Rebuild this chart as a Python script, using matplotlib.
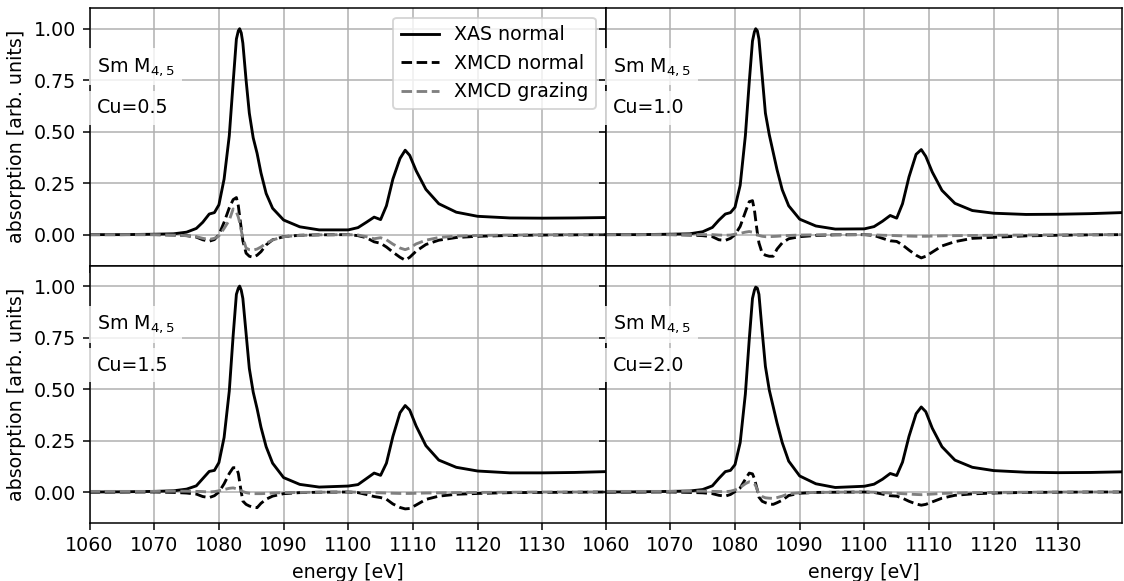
import numpy as np
import matplotlib
matplotlib.use('Agg')
import matplotlib.pyplot as plt

# energy grid (eV)
energy = [1060, 1065, 1070, 1073, 1075, 1076.5, 1077.5, 1078.5, 1079.3, 1080,
          1080.8, 1081.6, 1082.2, 1082.7, 1083.0, 1083.2, 1083.45, 1083.7, 1084.2, 1084.7,
          1085.3, 1085.9, 1086.5, 1087.3, 1088.3, 1090, 1092.5, 1095.5, 1100, 1101.5,
          1102.8, 1104, 1105, 1105.9, 1106.9, 1108, 1108.8, 1109.5, 1110.5, 1112,
          1114, 1116.7, 1120, 1125, 1130, 1135, 1139.8]

# Cu = 0.5
xas_05 = [0.0, 0.0, 0.002, 0.004, 0.012, 0.03, 0.06, 0.10, 0.107, 0.145,
          0.27, 0.48, 0.74, 0.95, 0.99, 1.00, 0.98, 0.93, 0.75, 0.59,
          0.47, 0.395, 0.30, 0.20, 0.128, 0.071, 0.038, 0.023, 0.023, 0.034,
          0.06, 0.085, 0.073, 0.14, 0.27, 0.37, 0.41, 0.385, 0.31, 0.22,
          0.15, 0.109, 0.089, 0.081, 0.080, 0.081, 0.083]
mcd_05 = [0, 0, 0, -0.002, -0.005, -0.012, -0.025, -0.032, -0.024, 0.0,
          0.06, 0.13, 0.17, 0.18, 0.14, 0.09, 0.03, -0.03, -0.09, -0.105,
          -0.11, -0.10, -0.083, -0.05, -0.025, -0.01, -0.003, -0.001, 0, -0.005,
          -0.015, -0.035, -0.042, -0.06, -0.085, -0.11, -0.124, -0.11, -0.08, -0.048,
          -0.027, -0.014, -0.008, -0.004, -0.002, -0.001, 0]
gr_05 = [0, 0, 0, -0.002, -0.005, -0.01, -0.018, -0.023, -0.018, -0.006,
         0.03, 0.07, 0.125, 0.11, 0.085, 0.06, 0.02, -0.015, -0.065, -0.073,
         -0.075, -0.07, -0.06, -0.042, -0.026, -0.01, -0.004, -0.001, 0, -0.002,
         -0.01, -0.02, -0.015, -0.025, -0.046, -0.065, -0.073, -0.065, -0.045, -0.027,
         -0.014, -0.007, -0.004, -0.002, -0.001, 0, 0]

# Cu = 1.0
xas_10 = [0.0, 0.0, 0.002, 0.004, 0.014, 0.035, 0.07, 0.10, 0.107, 0.133,
          0.24, 0.48, 0.74, 0.94, 0.985, 1.00, 0.99, 0.95, 0.77, 0.59,
          0.485, 0.40, 0.315, 0.218, 0.14, 0.075, 0.042, 0.027, 0.028, 0.039,
          0.065, 0.093, 0.08, 0.15, 0.28, 0.39, 0.413, 0.38, 0.304, 0.215,
          0.152, 0.117, 0.104, 0.098, 0.099, 0.102, 0.107]
mcd_10 = [0, 0, 0, -0.002, -0.005, -0.01, -0.025, -0.028, -0.018, 0.0,
          0.04, 0.11, 0.16, 0.165, 0.12, 0.07, 0.01, -0.04, -0.09, -0.10,
          -0.105, -0.105, -0.07, -0.04, -0.02, -0.01, -0.004, -0.001, 0, -0.004,
          -0.018, -0.03, -0.033, -0.05, -0.075, -0.10, -0.113, -0.105, -0.085, -0.055,
          -0.034, -0.018, -0.013, -0.006, -0.003, -0.001, 0]
gr_10 = [0, 0, 0, 0, 0, 0, -0.002, -0.003, -0.002, 0.002,
         0.006, 0.012, 0.015, 0.012, 0.008, 0.004, 0.0, -0.004, -0.008, -0.01,
         -0.01, -0.009, -0.008, -0.006, -0.004, -0.002, -0.001, 0, 0, -0.001,
         -0.003, -0.004, -0.005, -0.006, -0.007, -0.008, -0.008, -0.008, -0.007, -0.006,
         -0.005, -0.004, -0.003, -0.002, -0.001, 0, 0]

# Cu = 1.5
xas_15 = [0.0, 0.001, 0.003, 0.006, 0.014, 0.03, 0.065, 0.10, 0.105, 0.143,
          0.265, 0.49, 0.76, 0.96, 0.99, 1.00, 0.98, 0.94, 0.77, 0.60,
          0.485, 0.405, 0.315, 0.22, 0.14, 0.07, 0.037, 0.024, 0.029, 0.036,
          0.065, 0.092, 0.081, 0.14, 0.27, 0.385, 0.42, 0.398, 0.32, 0.225,
          0.155, 0.12, 0.102, 0.093, 0.093, 0.095, 0.099]
mcd_15 = [0, 0, 0, -0.002, -0.005, -0.01, -0.022, -0.027, -0.018, 0.0,
          0.04, 0.09, 0.118, 0.118, 0.09, 0.05, 0.0, -0.044, -0.06, -0.068,
          -0.074, -0.076, -0.055, -0.035, -0.02, -0.008, -0.003, -0.001, 0, -0.003,
          -0.012, -0.022, -0.027, -0.035, -0.058, -0.075, -0.082, -0.08, -0.063, -0.036,
          -0.02, -0.011, -0.007, -0.003, -0.002, -0.001, 0]
gr_15 = [0.003, 0.003, 0.003, 0.004, 0.004, 0.003, 0.002, 0.0, 0.002, 0.006,
         0.012, 0.018, 0.02, 0.016, 0.013, 0.01, 0.006, 0.002, -0.003, -0.006,
         -0.008, -0.008, -0.008, -0.007, -0.005, -0.003, -0.002, -0.001, 0, -0.001,
         -0.002, -0.003, -0.004, -0.005, -0.006, -0.007, -0.007, -0.007, -0.006, -0.005,
         -0.004, -0.003, -0.002, -0.001, 0, 0, 0]

# Cu = 2.0
xas_20 = [0.0, 0.001, 0.003, 0.005, 0.012, 0.03, 0.066, 0.099, 0.105, 0.133,
          0.24, 0.476, 0.74, 0.94, 0.98, 0.995, 0.99, 0.96, 0.78, 0.61,
          0.495, 0.415, 0.335, 0.24, 0.15, 0.078, 0.04, 0.022, 0.028, 0.038,
          0.062, 0.09, 0.08, 0.145, 0.27, 0.38, 0.413, 0.39, 0.31, 0.22,
          0.155, 0.12, 0.104, 0.096, 0.094, 0.095, 0.098]
mcd_20 = [0, 0, 0, -0.002, -0.004, -0.008, -0.016, -0.02, -0.012, 0.002,
          0.02, 0.062, 0.092, 0.088, 0.065, 0.04, 0.01, -0.025, -0.045, -0.052,
          -0.058, -0.06, -0.052, -0.04, -0.017, -0.006, -0.002, -0.001, 0, -0.002,
          -0.01, -0.018, -0.02, -0.03, -0.045, -0.058, -0.064, -0.06, -0.048, -0.03,
          -0.016, -0.009, -0.005, -0.002, -0.001, 0, 0]
gr_20 = [0.003, 0.003, 0.003, 0.004, 0.004, 0.003, 0.002, 0.001, 0.004, 0.01,
         0.022, 0.04, 0.05, 0.045, 0.04, 0.03, 0.01, -0.01, -0.022, -0.028,
         -0.03, -0.031, -0.027, -0.02, -0.008, -0.004, -0.002, -0.001, 0, -0.001,
         -0.003, -0.005, -0.006, -0.008, -0.01, -0.012, -0.013, -0.012, -0.01, -0.007,
         -0.005, -0.003, -0.002, -0.001, 0, 0, 0]

cu_labels = ['Cu=0.5', 'Cu=1.0', 'Cu=1.5', 'Cu=2.0']
xas_all = [xas_05, xas_10, xas_15, xas_20]
mcd_all = [mcd_05, mcd_10, mcd_15, mcd_20]
gr_all = [gr_05, gr_10, gr_15, gr_20]

dpi = 137
fig, axs = plt.subplots(2, 2, sharex=True, sharey=True,
                        figsize=(1124/dpi, 581/dpi), dpi=dpi)
fig.subplots_adjust(left=0.0797, right=0.998, top=0.986, bottom=0.100,
                    hspace=0, wspace=0)

box = dict(facecolor='white', alpha=0.8, edgecolor='none')
for i, ax in enumerate(axs.flat):
  ax.plot(energy, xas_all[i], 'k-', label='XAS normal')
  ax.plot(energy, mcd_all[i], 'k--', label='XMCD normal')
  ax.plot(energy, gr_all[i], '--', color='gray', label='XMCD grazing')
  ax.text(0.014, 0.772, r'Sm M$_{4,5}$', transform=ax.transAxes, va='center', bbox=box)
  ax.text(0.014, 0.612, cu_labels[i], transform=ax.transAxes, va='center', bbox=box)
  ax.grid(True)

axs[0, 0].set_xlim(1060, 1139.8)
axs[0, 0].set_ylim(-0.15, 1.1)
axs[0, 0].set_yticks([0, 0.25, 0.5, 0.75, 1.0])
axs[0, 0].set_xticks(np.arange(1060, 1131, 10))
axs[0, 0].legend(loc='upper right')

for ax in axs[:, 0]:
  ax.set_ylabel('absorption [arb. units]')
for ax in axs[1, :]:
  ax.set_xlabel('energy [eV]')

plt.savefig('out.png')
